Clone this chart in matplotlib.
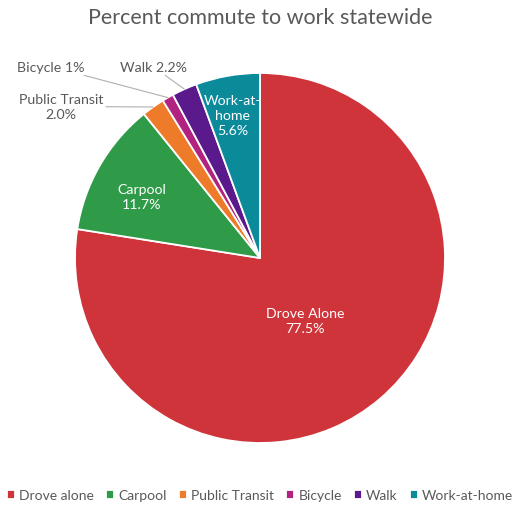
import numpy as np
import matplotlib.pyplot as plt

# data
categories = ['Drove alone', 'Carpool', 'Public Transit', 'Bicycle', 'Walk', 'Work-at-home']
values = [77.5, 11.7, 2.0, 1.0, 2.2, 5.6]
colors = ['#D0343B', '#2F9B48', '#EE7B2A', '#B2237F', '#5B1A8B', '#0B8A9A']
inside_labels = {0: 'Drove Alone\n77.5%', 1: 'Carpool\n11.7%', 5: 'Work-at-\nhome\n5.6%'}
outside_labels = {2: 'Public Transit\n2.0%', 3: 'Bicycle 1%', 4: 'Walk 2.2%'}

plt.rcParams['font.family'] = ['Lato', 'DejaVu Sans']
GRAY = '#595959'

fig = plt.figure(figsize=(5.2, 5.06), dpi=100)
cx, cy, r = 260, 259, 185
ax = fig.add_axes([(cx - r) / 520, (506 - cy - r) / 506, 2 * r / 520, 2 * r / 506])

wedges, _ = ax.pie(values, colors=colors, startangle=90, counterclock=False,
                   wedgeprops=dict(edgecolor='white', linewidth=1.3))
ax.set_xlim(-1, 1)
ax.set_ylim(-1, 1)
ax.set_aspect('equal')

# label positions (data units, pie radius = 1)
inside_pos = {0: (0.243, -0.34), 1: (-0.64, 0.335), 5: (-0.146, 0.773)}
for i, txt in inside_labels.items():
    ax.text(*inside_pos[i], txt, ha='center', va='center', color='white',
            fontsize=10.2, linespacing=1.3)

outside_pos = {2: (-1.076, 0.819), 3: (-1.13, 1.035), 4: (-0.578, 1.035)}
for i, txt in outside_labels.items():
    w = wedges[i]
    ang = np.deg2rad((w.theta1 + w.theta2) / 2)
    xy = (np.cos(ang), np.sin(ang))
    ax.annotate(txt, xy=xy, xytext=outside_pos[i], ha='center', va='center',
                color=GRAY, fontsize=10.2, linespacing=1.3,
                arrowprops=dict(arrowstyle='-', color='#B0B0B0', lw=0.8,
                                shrinkA=0, shrinkB=0))

fig.text(0.5, 1 - 18 / 506, 'Percent commute to work statewide', ha='center', va='center',
         fontsize=15.5, color=GRAY)

fig.legend(wedges, categories, loc='center', bbox_to_anchor=(0.5, 1 - 496 / 506), ncol=6,
           frameon=False, fontsize=10, labelcolor=GRAY, handlelength=0.6, handleheight=0.6,
           handletextpad=0.3, columnspacing=0.85)

fig.savefig('out.png', dpi=100)
